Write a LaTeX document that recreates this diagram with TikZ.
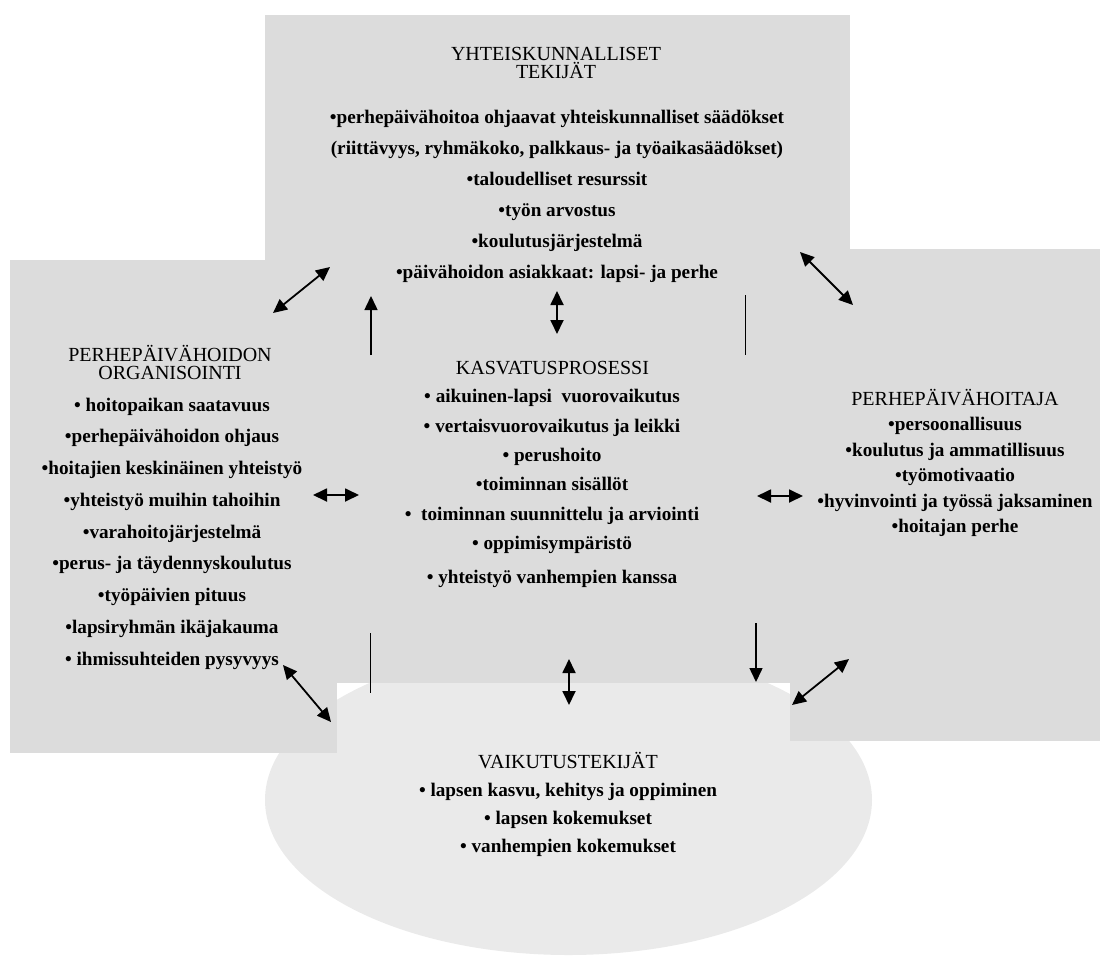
\documentclass[tikz,border=0pt]{standalone}
\usepackage{fontspec}
\setmainfont{Liberation Serif}
\usetikzlibrary{arrows.meta}
\definecolor{boxgray}{RGB}{220,220,220}
\definecolor{ovalgray}{RGB}{234,234,234}

\begin{document}
\begin{tikzpicture}[x=1pt,y=-1pt,
  head/.style={font=\fontsize{20}{18}\selectfont,align=center,anchor=base},
  items/.style={font=\fontsize{19.2}{#1}\selectfont\bfseries,align=center,anchor=base},
  tip/.tip={Triangle[length=14pt,width=13pt]},
  arr/.style={-tip,line width=1.5pt},
  dbl/.style={tip-tip,line width=1.8pt},
  bar/.style={line width=1.5pt}]
\useasboundingbox (0,0) rectangle (1108,956);
\fill[ovalgray] (568.5,800) ellipse [x radius=303.5,y radius=155];
\fill[boxgray] (265,15) rectangle (850,683);
\fill[boxgray] (10,260) rectangle (337,753);
\fill[boxgray] (790,249) rectangle (1100,741);

\node[head] (yhthead) at (556,78.8) {YHTEISKUNNALLISET\\TEKIJÄT};
\node[items=31] (yhtlist) at (557,278) {•perhepäivähoitoa ohjaavat yhteiskunnalliset säädökset\\
  (riittävyys, ryhmäkoko, palkkaus- ja työaikasäädökset)\\•taloudelliset resurssit\\
  •työn arvostus\\•koulutusjärjestelmä\\•päivähoidon asiakkaat: lapsi- ja perhe};
\node[head] (orghead) at (170,379.8) {PERHEPÄIVÄHOIDON\\ORGANISOINTI};
\node[items=31.75] (orglist) at (172,665) {• hoitopaikan saatavuus\\•perhepäivähoidon ohjaus\\
  •hoitajien keskinäinen yhteistyö\\•yhteistyö muihin tahoihin\\•varahoitojärjestelmä\\
  •perus- ja täydennyskoulutus\\•työpäivien pituus\\•lapsiryhmän ikäjakauma\\• ihmissuhteiden pysyvyys};
\node[head] (kashead) at (552.5,374.3) {KASVATUSPROSESSI};
\node[items=29.3] (kaslist) at (552,583.3) {• aikuinen-lapsi\ \ vuorovaikutus\\• vertaisvuorovaikutus ja leikki\\
  • perushoito\\•toiminnan sisällöt\\•\ \ toiminnan suunnittelu ja arviointi\\• oppimisympäristö\\[4.7pt]
  • yhteistyö vanhempien kanssa};
\node[head] (hoihead) at (955,405.7) {PERHEPÄIVÄHOITAJA};
\node[items=25.5] (hoilist) at (955,532.7) {•persoonallisuus\\•koulutus ja ammatillisuus\\•työmotivaatio\\
  •hyvinvointi ja työssä jaksaminen\\•hoitajan perhe};
\node[head] (vaihead) at (568,768.3) {VAIKUTUSTEKIJÄT};
\node[items=28.2] (vailist) at (568,852.4) {• lapsen kasvu, kehitys ja oppiminen\\• lapsen kokemukset\\• vanhempien kokemukset};

\coordinate (oy1) at (273,313); \coordinate (oy2) at (330,267);
\coordinate (ky1) at (371,355); \coordinate (ky2) at (371,296);
\coordinate (ky3) at (557,334); \coordinate (ky4) at (557,291);
\coordinate (ky5) at (745.5,295); \coordinate (ky6) at (745.5,355);
\coordinate (hy1) at (853,305); \coordinate (hy2) at (800,252);
\coordinate (ok1) at (313,495); \coordinate (ok2) at (359,495);
\coordinate (hk1) at (757,496); \coordinate (hk2) at (803,496);
\coordinate (kv1) at (370.5,633); \coordinate (kv2) at (370.5,693);
\coordinate (kv3) at (569,659); \coordinate (kv4) at (569,705);
\coordinate (kv5) at (756,623); \coordinate (kv6) at (756,682);
\coordinate (ov1) at (283,665); \coordinate (ov2) at (331,722);
\coordinate (hv1) at (849,659); \coordinate (hv2) at (792,705);

\draw[dbl] (oy1) -- (oy2);
\draw[arr] (ky1) -- (ky2);
\draw[dbl] (ky3) -- (ky4);
\draw[bar] (ky5) -- (ky6);
\draw[dbl] (hy1) -- (hy2);
\draw[dbl] (ok1) -- (ok2);
\draw[dbl] (hk1) -- (hk2);
\draw[bar] (kv1) -- (kv2);
\draw[dbl] (kv3) -- (kv4);
\draw[arr] (kv5) -- (kv6);
\draw[dbl] (ov1) -- (ov2);
\draw[dbl] (hv1) -- (hv2);
\end{tikzpicture}
\end{document}
